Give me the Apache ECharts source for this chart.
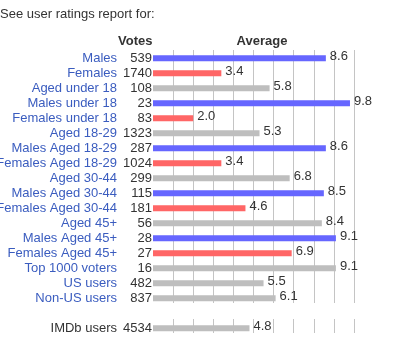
<!DOCTYPE html>
<html>
<head>
<meta charset="utf-8">
<script src="https://cdn.jsdelivr.net/npm/echarts@6/dist/echarts.min.js"></script>
<style>
html,body{margin:0;padding:0;background:#fff;}
#chart{width:398px;height:345px;}
</style>
</head>
<body>
<div id="chart"></div>
<script>
var names = ['Males','Females','Aged under 18','Males under 18','Females under 18','Aged 18-29','Males Aged 18-29','Females Aged 18-29','Aged 30-44','Males Aged 30-44','Females Aged 30-44','Aged 45+','Males Aged 45+','Females Aged 45+','Top 1000 voters','US users','Non-US users','IMDb users'];
var votes = [539,1740,108,23,83,1323,287,1024,299,115,181,56,28,27,16,482,837,4534];
var averages = [8.6,3.4,5.8,9.8,2.0,5.3,8.6,3.4,6.8,8.5,4.6,8.4,9.1,6.9,9.1,5.5,6.1,4.8];
var titleText = 'See user ratings report for:';
var votesHeader = 'Votes';
var averageHeader = 'Average';

var FONT = '"Liberation Sans", Arial, sans-serif';
var BLUE = '#6666ff', RED = '#ff6666', GREY = '#bebebe';

// insert a spacer row before the overall (last) row
var cats = names.slice(0, -1).concat([''], names.slice(-1));
var voteCats = votes.slice(0, -1).map(String).concat([''], votes.slice(-1).map(String));
var avgData = averages.slice(0, -1).concat(['-'], averages.slice(-1));

function barColor(name) {
  if (/^Males/.test(name)) return BLUE;
  if (/^Females/.test(name)) return RED;
  return GREY;
}

var barData = avgData.map(function (v, i) {
  return { value: v, itemStyle: { color: barColor(cats[i]) } };
});

var chart = echarts.init(document.getElementById('chart'), null, { renderer: 'canvas' });

var splitX = function (gi) {
  return {
    type: 'value', gridIndex: gi, min: 0, max: 10, interval: 1,
    axisLine: { show: false }, axisTick: { show: false }, axisLabel: { show: false },
    splitLine: { show: true, showMinLine: false, lineStyle: { color: '#c4c4c4', width: 1 } }
  };
};

chart.setOption({
  animation: false,
  backgroundColor: '#fff',
  textStyle: { fontFamily: FONT },
  graphic: [
    { type: 'text', left: 0, top: 8, style: { text: titleText, font: '13px ' + FONT, fill: '#333' } },
    { type: 'text', x: 152.5, y: 41.5, style: { text: votesHeader, font: 'bold 13px ' + FONT, fill: '#333', align: 'right', verticalAlign: 'middle' } },
    { type: 'text', x: 262, y: 41.5, style: { text: averageHeader, font: 'bold 13px ' + FONT, fill: '#333', align: 'center', verticalAlign: 'middle' } }
  ],
  grid: [
    { left: 153, width: 201, top: 50.7, height: 285, containLabel: false, outerBoundsMode: 'none' },
    { left: 153, width: 201, top: 50, height: 253, containLabel: false, outerBoundsMode: 'none' },
    { left: 153, width: 201, top: 319, height: 14, containLabel: false, outerBoundsMode: 'none' }
  ],
  xAxis: [
    { type: 'value', gridIndex: 0, min: 0, max: 10, interval: 1, show: false, splitLine: { show: false } },
    splitX(1),
    splitX(2)
  ],
  yAxis: [
    {
      type: 'category', gridIndex: 0, data: voteCats, inverse: true, position: 'left',
      axisLine: { show: false }, axisTick: { show: false }, splitLine: { show: false },
      axisLabel: { interval: 0, margin: 1, fontSize: 13, fontFamily: FONT, color: '#333', padding: [0, 0, 5, 0] }
    },
    {
      type: 'category', gridIndex: 0, data: cats, inverse: true, position: 'left', offset: 35,
      axisLine: { show: false }, axisTick: { show: false }, splitLine: { show: false },
      axisLabel: {
        interval: 0, margin: 1, fontSize: 13, fontFamily: FONT, padding: [0, 0, 5, 0],
        color: function (value, index) { return index === cats.length - 1 ? '#333' : '#3a5cbf'; }
      }
    },
    { type: 'value', gridIndex: 1, show: false },
    { type: 'value', gridIndex: 2, show: false }
  ],
  series: [
    {
      type: 'bar', xAxisIndex: 0, yAxisIndex: 0, data: barData, barWidth: 6, z: 5,
      label: {
        show: true, position: 'right', distance: 4, offset: [0, -2],
        fontSize: 13, fontFamily: FONT, color: '#333',
        formatter: function (p) { return Number(p.value).toFixed(1); }
      }
    }
  ]
});
</script>
</body>
</html>
